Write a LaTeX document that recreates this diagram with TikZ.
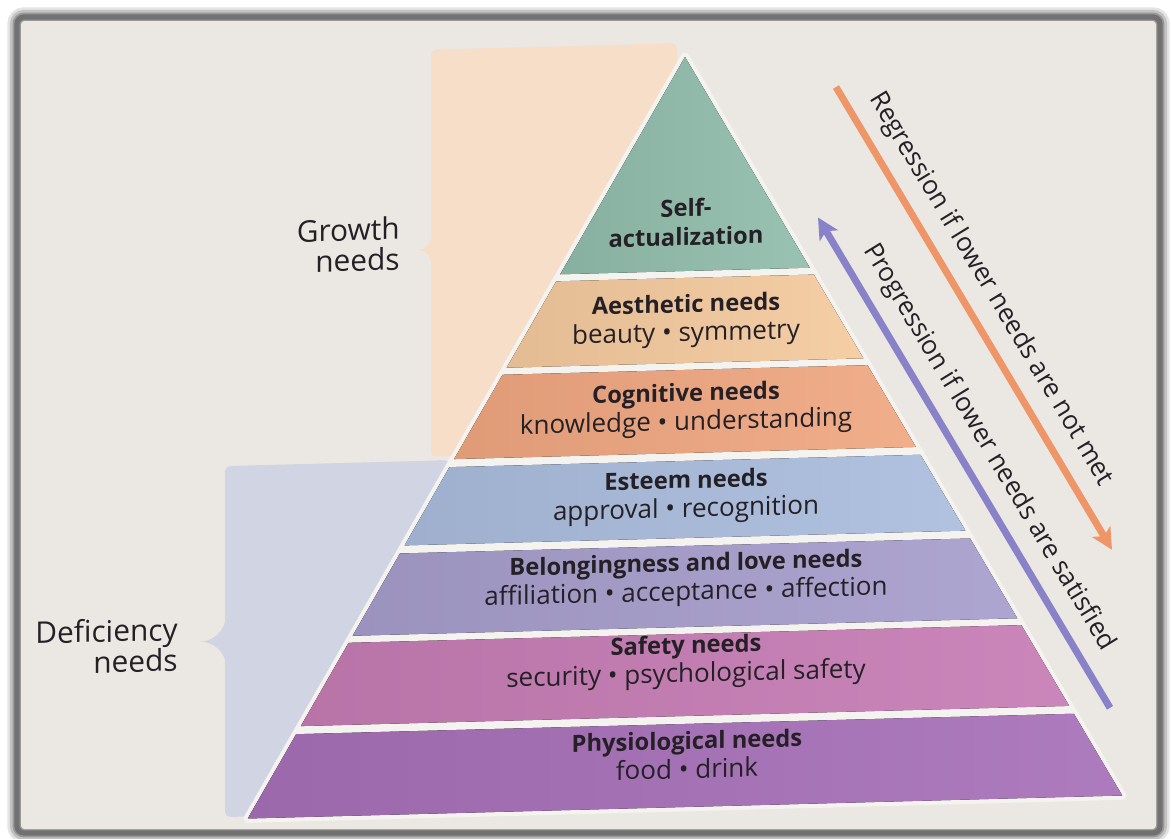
\documentclass[tikz,border=0pt]{standalone}
\usepackage{fontspec}
\setmainfont{Open Sans}
\usepackage{xcolor}
\usepackage{tikz}
\usetikzlibrary{arrows.meta,positioning}

\definecolor{pagebg}{RGB}{235,232,227}
\definecolor{gapwhite}{RGB}{245,243,240}
\definecolor{growthbg}{RGB}{246,222,201}
\definecolor{deficbg}{RGB}{209,212,226}
\definecolor{selfcol}{RGB}{145,189,172}
\definecolor{aesthcol}{RGB}{244,202,158}
\definecolor{cogncol}{RGB}{240,167,128}
\definecolor{esteemcol}{RGB}{170,189,221}
\definecolor{lovecol}{RGB}{166,158,204}
\definecolor{safecol}{RGB}{198,124,180}
\definecolor{physcol}{RGB}{166,112,184}
\definecolor{regcol}{RGB}{238,150,104}
\definecolor{progcol}{RGB}{138,130,200}
\definecolor{inkcol}{RGB}{36,32,38}

% need name on top, examples below in a larger regular face
\newcommand{\needname}[1]{{\fontsize{13.5}{16.5}\selectfont\bfseries #1}}

\tikzset{
  tier/.style={align=center, text=inkcol, font=\fontsize{14.8}{16.5}\selectfont},
  sidelabel/.style={align=right, text=inkcol, anchor=east, inner sep=0pt, font=\fontsize{17}{17.5}\selectfont},
  arrowtext/.style={text=inkcol, anchor=south, inner ysep=7pt, font=\fontsize{14.8}{16}\selectfont},
}

\begin{document}
\begin{tikzpicture}[x=0.02cm, y=-0.02cm]
    \useasboundingbox (0,0) rectangle (1171,839);
    \fill[white] (0,0) rectangle (1171,839);

    % page with its soft grey edge
    \foreach \w/\op in {11/0.15, 8/0.22, 5/0.35, 3/0.5} {
        \draw[black!70, line width=\w pt, opacity=\op, rounded corners=4pt] (17,17) rectangle (1160,833);
    }
    \fill[pagebg, rounded corners=2pt] (21,21) rectangle (1156,829);

    \begin{scope}[shift={(0,18)}, yslant=0.0263, transform shape]
        % Growth / deficiency panels with brace tips
        \fill[growthbg, rounded corners=3pt] (677,43) -- (431,43) -- (431,450) -- (677,450) -- cycle;
        \fill[growthbg] (432,226) .. controls (431,238) and (425,243) .. (418,243)
            .. controls (425,243) and (431,248) .. (432,260) -- cycle;
        \fill[deficbg, rounded corners=3pt] (450,454) -- (225,454) -- (225,805) -- (450,805) -- cycle;
        \fill[deficbg] (226,604) .. controls (225,620) and (212,629) .. (200,629)
            .. controls (212,629) and (225,638) .. (226,654) -- cycle;

        % Pyramid
        \fill[gapwhite, draw=gapwhite, line width=5pt, line join=round] (685,57) -- (1122,807) -- (248,807) -- cycle;
        \foreach \ytop/\ybot/\col in {57/271/selfcol, 278/363/aesthcol, 370/453/cogncol, 461/538/esteemcol,
                                       546/627/lovecol, 634/716/safecol, 724/807/physcol} {
            \pgfmathsetmacro{\xtl}{685-0.583*(\ytop-57)}
            \pgfmathsetmacro{\xtr}{685+0.583*(\ytop-57)}
            \pgfmathsetmacro{\xbl}{685-0.583*(\ybot-57)}
            \pgfmathsetmacro{\xbr}{685+0.583*(\ybot-57)}
            \fill[left color=\col!93!black, right color=\col!92!white]
                (\xtl,\ytop) -- (\xtr,\ytop) -- (\xbr,\ybot) -- (\xbl,\ybot) -- cycle;
        }

        \node[tier] (selfact) at (686,222) {\needname{Self-}\\\needname{actualization}};
        \node[tier] (aesth) at (686,321) {\needname{Aesthetic needs}\\beauty \textbullet{} symmetry};
        \node[tier] (cogn) at (686,410) {\needname{Cognitive needs}\\knowledge \textbullet{} understanding};
        \node[tier] (esteem) at (686,497) {\needname{Esteem needs}\\approval \textbullet{} recognition};
        \node[tier] (love) at (686,580) {\needname{Belongingness and love needs}\\affiliation \textbullet{} acceptance \textbullet{} affection};
        \node[tier] (safety) at (686,662) {\needname{Safety needs}\\security \textbullet{} psychological safety};
        \node[tier] (physio) at (687,755) {\needname{Physiological needs}\\food \textbullet{} drink};

        \node[sidelabel] (growth) at (400,236) {Growth\\needs};
        \node[sidelabel] (deficiency) at (178,631) {Deficiency\\needs};

        % Regression / progression arrows
        \coordinate (regstart) at (836,91);
        \coordinate (regend) at (1112,561);
        \coordinate (progstart) at (1110,719);
        \coordinate (progend) at (818,221);
        \draw[regcol, line width=4pt, -{Stealth[length=12pt, width=12pt, inset=3pt]}] (regstart) -- (regend)
            node[arrowtext, pos=0.47, rotate=-59.6] (regtext) {Regression if lower needs are not met};
        \draw[progcol, line width=4pt, -{Stealth[length=12pt, width=12pt, inset=3pt]}] (progstart) -- (progend)
            node[arrowtext, pos=0.5, rotate=-59.6] (progtext) {Progression if lower needs are satisfied};
    \end{scope}
\end{tikzpicture}
\end{document}
